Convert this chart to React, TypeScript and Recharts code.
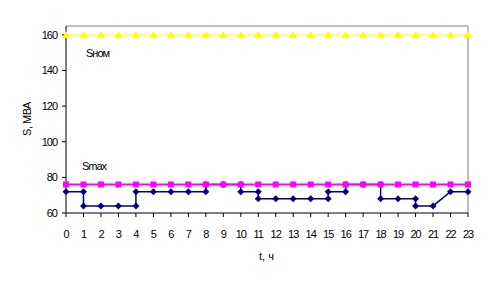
import { ComposedChart, Line, XAxis, YAxis, ReferenceLine } from 'recharts'

const hours = [0, 1, 2, 3, 4, 5, 6, 7, 8, 9, 10, 11, 12, 13, 14, 15, 16, 17, 18, 19, 20, 21, 22, 23]
const sNom = [160, 160, 160, 160, 160, 160, 160, 160, 160, 160, 160, 160, 160, 160, 160, 160, 160, 160, 160, 160, 160, 160, 160, 160]
const sMax = [76, 76, 76, 76, 76, 76, 76, 76, 76, 76, 76, 76, 76, 76, 76, 76, 76, 76, 76, 76, 76, 76, 76, 76]

// load curve, drawn as steps (repeated hours)
const loadT = [0, 1, 1, 2, 3, 4, 4, 5, 6, 7, 8, 8, 9, 10, 10, 11, 11, 12, 13, 14, 15, 15, 16, 16, 17, 18, 18, 19, 20, 20, 21, 22, 23]
const loadS = [72, 72, 64, 64, 64, 64, 72, 72, 72, 72, 72, 76, 76, 76, 72, 72, 68, 68, 68, 68, 68, 72, 72, 76, 76, 76, 68, 68, 68, 64, 64, 72, 72]

const yTicks = [60, 80, 100, 120, 140, 160]

const nomData = hours.map((t, i) => ({ t, s: sNom[i] }))
const maxData = hours.map((t, i) => ({ t, s: sMax[i] }))
const loadData = loadT.map((t, i) => ({ t, s: loadS[i] }))

const font = { fontFamily: '"Liberation Sans", Arial, sans-serif', fontSize: 11, letterSpacing: -1, fill: '#000' }
const textStyle = { fontFamily: '"Liberation Sans", Arial, sans-serif', fontSize: 11, letterSpacing: -1, color: '#000', lineHeight: '13px' }

// eslint-disable-next-line @typescript-eslint/no-explicit-any
const triangle = (props: any) => {
  const { cx, cy, index } = props
  if (cx == null || cy == null) return <g key={index} />
  return <path key={index} d={`M${cx},${cy - 4}L${cx + 4},${cy + 3}L${cx - 4},${cy + 3}Z`} fill="#ffff00" />
}

// eslint-disable-next-line @typescript-eslint/no-explicit-any
const square = (props: any) => {
  const { cx, cy, index } = props
  if (cx == null || cy == null) return <g key={index} />
  return <rect key={index} x={cx - 3} y={cy - 3} width={6} height={6} fill="#ff00ff" />
}

// eslint-disable-next-line @typescript-eslint/no-explicit-any
const diamond = (props: any) => {
  const { cx, cy, index } = props
  if (cx == null || cy == null) return <g key={index} />
  return <path key={index} d={`M${cx},${cy - 3.5}L${cx + 3.5},${cy}L${cx},${cy + 3.5}L${cx - 3.5},${cy}Z`} fill="#000080" />
}

export default function App() {
  return (
    <div style={{ position: 'absolute', left: 0, top: 0, width: 491, height: 284, background: '#fff' }}>
      <ComposedChart width={491} height={284} margin={{ top: 26, right: 23, left: 0, bottom: 0 }}>
        <XAxis
          dataKey="t"
          type="number"
          domain={[0, 23]}
          ticks={hours}
          interval={0}
          allowDuplicatedCategory={false}
          height={71}
          stroke="#000"
          tickSize={4}
          tickMargin={13}
          tick={font}
        />
        <YAxis
          type="number"
          domain={[60, 165]}
          ticks={yTicks}
          width={66}
          stroke="#000"
          tickSize={4}
          tickMargin={5}
          tick={font}
        />
        <ReferenceLine y={165} stroke="#808080" />
        <ReferenceLine x={23} stroke="#808080" />
        <Line data={loadData} dataKey="s" stroke="#000080" strokeWidth={1.5} dot={diamond} isAnimationActive={false} />
        <Line data={maxData} dataKey="s" stroke="#ff00ff" strokeWidth={2} dot={square} isAnimationActive={false} />
        <Line data={nomData} dataKey="s" stroke="#ffff00" strokeWidth={1} dot={triangle} isAnimationActive={false} />
      </ComposedChart>
      <div style={{ position: 'absolute', left: 86, top: 47, ...textStyle }}>Sном</div>
      <div style={{ position: 'absolute', left: 82, top: 160, ...textStyle }}>Smax</div>
      <div style={{ position: 'absolute', left: 259, top: 250, ...textStyle, letterSpacing: 0 }}>t, ч</div>
      <div
        style={{
          position: 'absolute',
          left: 27,
          top: 119,
          ...textStyle,
          letterSpacing: -0.5,
          whiteSpace: 'nowrap',
          transform: 'translate(-50%, -50%) rotate(-90deg)',
        }}
      >
        S, МВА
      </div>
    </div>
  )
}
